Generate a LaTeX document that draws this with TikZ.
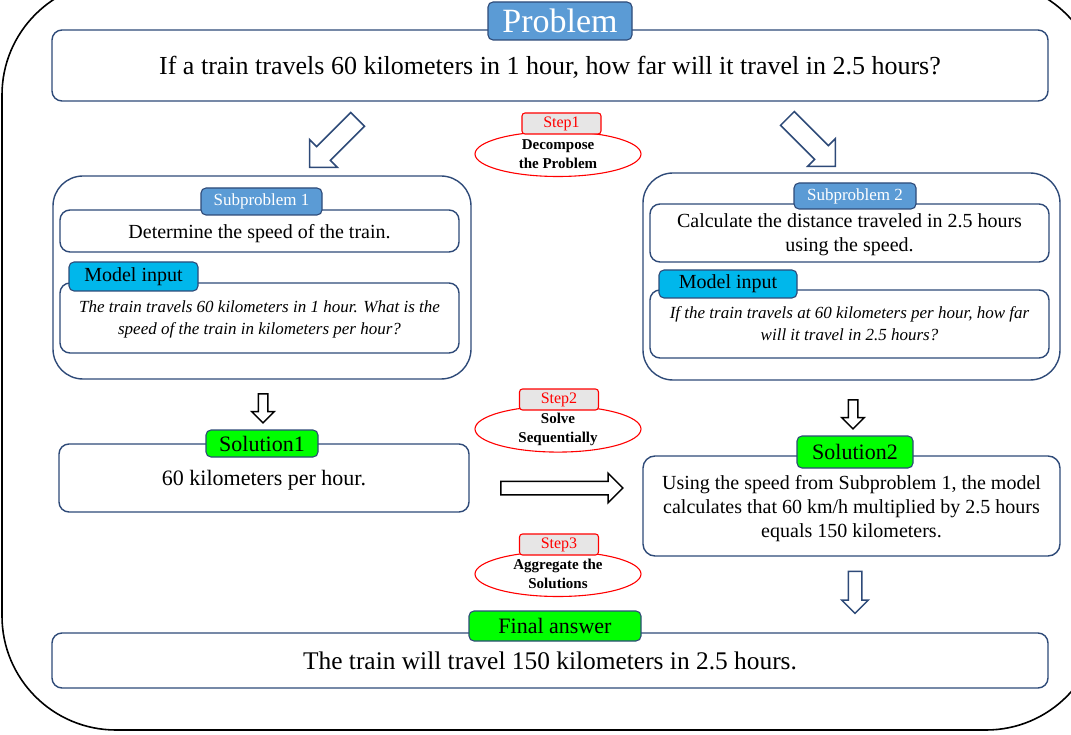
\documentclass[tikz,border=0pt]{standalone}
\usepackage{fontspec}
\setmainfont{Liberation Serif}
\usepackage{xcolor}
\usepackage{tikz}
\usetikzlibrary{shapes}
\definecolor{navy}{HTML}{2E4A78}
\definecolor{tagblue}{HTML}{5B9BD5}
\definecolor{inputcyan}{HTML}{00B7EB}
\definecolor{solgreen}{HTML}{00FF00}
\definecolor{stepgray}{HTML}{E7E6E6}
\tikzstyle{box}=[draw=navy,line width=1.4pt,rounded corners=10pt,fill=white,inner sep=0pt,align=center,text depth=0pt]
\tikzstyle{group}=[draw=navy,line width=1.4pt,rounded corners=30pt,inner sep=0pt]
\tikzstyle{tag}=[draw=navy,line width=1.1pt,rounded corners=5pt,inner sep=0pt]
\tikzstyle{steptag}=[draw=red,fill=stepgray,line width=1.1pt,rounded corners=3pt,inner sep=0pt,text=red,minimum width=79pt,minimum height=21pt,font=\fontsize{16}{18}\selectfont]
\tikzstyle{stepoval}=[ellipse,draw=red,line width=1.1pt,inner sep=0pt,minimum width=166pt,minimum height=45pt,align=center,font=\bfseries\fontsize{15}{19}\selectfont]
\tikzstyle{hollow}=[single arrow,draw,fill=white,line width=1.5pt,inner xsep=0pt]

\begin{document}
\begin{tikzpicture}[x=1pt,y=-1pt]
        \useasboundingbox (0,0) rectangle (1071,735);
        \begin{scope}
        \clip (0,0) rectangle (1071,735);
        \draw[line width=1.6pt,rounded corners=114pt] (2,-19) rectangle (1100,730);
        \end{scope}
        \node at (550,65.5) [box,minimum width=996pt,minimum height=71pt,font=\fontsize{26}{30}\selectfont] (problem) {If a train travels 60 kilometers in 1 hour, how far will it travel in 2.5 hours?};
        \node at (560,21) [tag,fill=tagblue,text=white,minimum width=144pt,minimum height=38pt,font=\fontsize{34}{38}\selectfont] (problemtag) {Problem};
        \node at (558,154) [stepoval] (oval1) {Decompose\\the Problem};
        \node at (561.5,123.5) [steptag] (step1) {Step1};
        \node at (337,140) [hollow,draw=navy,rotate=225,minimum height=68pt,inner ysep=9pt,single arrow head extend=10pt] (split1) {};
        \node at (808,139) [hollow,draw=navy,rotate=-45,minimum height=68pt,inner ysep=9pt,single arrow head extend=10pt] (split2) {};
        \node at (262,277.5) [group,minimum width=418pt,minimum height=203pt] (sub1) {};
        \node at (259.5,231) [box,minimum width=399pt,minimum height=42pt,font=\fontsize{20}{24}\selectfont] (task1) {Determine the speed of the train.};
        \node at (261.5,201.5) [tag,fill=tagblue,text=white,minimum width=121pt,minimum height=27pt,font=\fontsize{17}{20}\selectfont] (subtag1) {Subproblem 1};
        \node at (259.5,318) [box,minimum width=399pt,minimum height=70pt,font=\itshape\fontsize{17}{22}\selectfont] (input1) {The train travels 60 kilometers in 1 hour. What is the\\speed of the train in kilometers per hour?};
        \node at (133.5,276.5) [tag,fill=inputcyan,minimum width=129pt,minimum height=29pt,font=\fontsize{20}{24}\selectfont] (inputtag1) {Model input};
        \node at (851.5,276.5) [group,minimum width=417pt,minimum height=207pt] (sub2) {};
        \node at (849.5,233) [box,minimum width=399pt,minimum height=58pt,font=\fontsize{20}{24}\selectfont] (task2) {Calculate the distance traveled in 2.5 hours\\using the speed.};
        \node at (855,196) [tag,fill=tagblue,text=white,minimum width=122pt,minimum height=26pt,font=\fontsize{17}{20}\selectfont] (subtag2) {Subproblem 2};
        \node at (849.5,324) [box,minimum width=399pt,minimum height=68pt,font=\itshape\fontsize{17}{22}\selectfont] (input2) {If the train travels at 60 kilometers per hour, how far\\will it travel in 2.5 hours?};
        \node at (728,284) [tag,fill=inputcyan,minimum width=138pt,minimum height=28pt,font=\fontsize{20}{24}\selectfont] (inputtag2) {Model input};
        \node at (263,406) [hollow,rotate=-90,minimum height=29pt,inner ysep=4pt,single arrow head extend=6.5pt] (down1) {};
        \node at (853,412) [hollow,rotate=-90,minimum height=29pt,inner ysep=4pt,single arrow head extend=6.5pt] (down2) {};
        \node at (558,429) [stepoval] (oval2) {Solve\\Sequentially};
        \node at (559,399.5) [steptag] (step2) {Step2};
        \node at (264,478) [box,minimum width=410pt,minimum height=68pt,font=\fontsize{22}{26}\selectfont] (sol1) {60 kilometers per hour.};
        \node at (262,443.5) [tag,fill=solgreen,minimum width=112pt,minimum height=27pt,font=\fontsize{22}{26}\selectfont] (soltag1) {Solution1};
        \node at (558.5,488) [hollow,minimum height=122pt,inner ysep=6pt,single arrow head extend=8pt] (carry) {};
        \node at (851.5,506) [box,rounded corners=12pt,minimum width=417pt,minimum height=100pt,font=\fontsize{20}{24}\selectfont] (sol2) {Using the speed from Subproblem 1, the model\\calculates that 60 km/h multiplied by 2.5 hours\\equals 150 kilometers.};
        \node at (855,452) [tag,fill=solgreen,minimum width=116pt,minimum height=32pt,font=\fontsize{22}{26}\selectfont] (soltag2) {Solution2};
        \node at (558,574) [stepoval] (oval3) {Aggregate the\\Solutions};
        \node at (559,544.5) [steptag] (step3) {Step3};
        \node at (855,589) [hollow,draw=navy,rotate=-90,minimum height=42pt,inner ysep=6pt,single arrow head extend=6.5pt] (down3) {};
        \node at (550,660.5) [box,minimum width=996pt,minimum height=55pt,font=\fontsize{25.4}{30}\selectfont] (final) {The train will travel 150 kilometers in 2.5 hours.};
        \node at (555,626) [tag,fill=solgreen,minimum width=172pt,minimum height=30pt,font=\fontsize{22}{26}\selectfont] (finaltag) {Final answer};
      \end{tikzpicture}
\end{document}
